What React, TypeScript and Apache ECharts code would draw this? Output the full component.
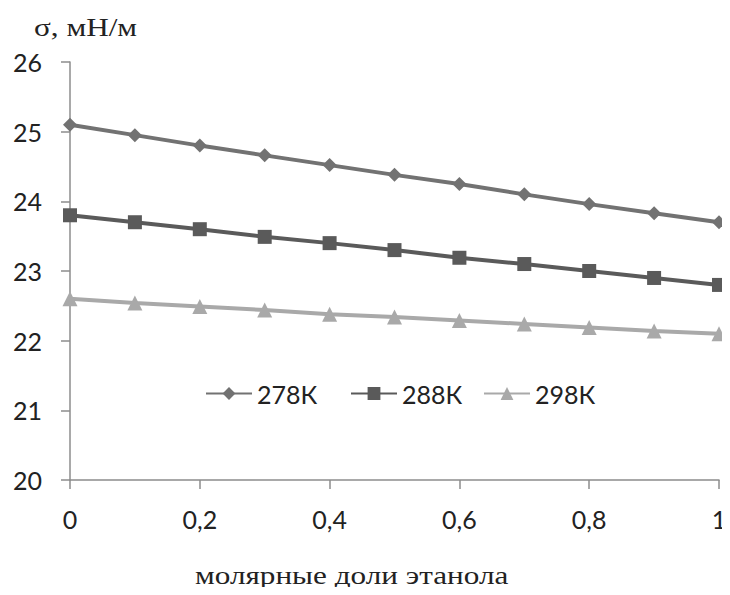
import React, { useEffect, useRef } from "react";
import * as echarts from "echarts";

const xValues = [0, 0.1, 0.2, 0.3, 0.4, 0.5, 0.6, 0.7, 0.8, 0.9, 1];
const s278 = [25.1, 24.95, 24.8, 24.66, 24.52, 24.38, 24.25, 24.1, 23.96, 23.83, 23.7];
const s288 = [23.8, 23.7, 23.6, 23.49, 23.4, 23.3, 23.19, 23.1, 23.0, 22.9, 22.8];
const s298 = [22.6, 22.54, 22.49, 22.44, 22.38, 22.34, 22.29, 22.24, 22.19, 22.14, 22.1];
const seriesNames = ["278К", "288К", "298К"];
const yTitle = "σ, мН/м";
const xTitle = "молярные доли этанола";

const sans = "Lato, 'Open Sans', sans-serif";
const serif = "'Liberation Serif', 'DejaVu Serif', serif";

export default function App() {
  const ref = useRef<HTMLDivElement>(null);
  useEffect(() => {
    if (!ref.current) return;
    const chart = echarts.init(ref.current, null, { renderer: "svg" });
    const pair = (ys: number[]) => xValues.map((x, i) => [x, ys[i]]);
    const colors = ["#727272", "#5a5a5a", "#a9a9a9"];
    const symbols = ["diamond", "rect", "triangle"];
    const sizes = [14, 14, 15];
    const data = [s278, s288, s298];
    const legendLefts = [200, 345, 478];
    chart.setOption({
      animation: false,
      graphic: [
        {
          type: "text",
          left: 34,
          top: 14,
          scaleX: 1.2,
          style: { text: yTitle, font: `26px ${serif}`, fill: "#222" },
        },
        {
          type: "text",
          x: 195,
          y: 562,
          scaleX: 1.2,
          style: { text: xTitle, font: `26px ${serif}`, fill: "#222" },
        },
      ],
      legend: seriesNames.map((n, i) => ({
        left: legendLefts[i],
        top: 376,
        itemWidth: 46,
        itemHeight: 16,
        textStyle: { fontFamily: sans, fontSize: 25, color: "#222" },
        data: [n],
      })),
      grid: { left: 70, right: 11, top: 62, bottom: 115, containLabel: false },
      xAxis: {
        type: "value",
        min: 0,
        max: 1,
        interval: 0.2,
        splitLine: { show: false },
        axisLine: { lineStyle: { color: "#8c8c8c", width: 1.5 } },
        axisTick: { show: true, length: 9, lineStyle: { color: "#8c8c8c", width: 1.5 } },
        axisLabel: {
          margin: 26,
          fontFamily: sans,
          fontSize: 25,
          color: "#222",
          formatter: (v: number) => String(Math.round(v * 10) / 10).replace(".", ","),
        },
      },
      yAxis: [
        {
          type: "value",
          min: 20,
          max: 26,
          interval: 1,
          splitLine: { show: false },
          axisLine: { show: true, lineStyle: { color: "#8c8c8c", width: 1.5 } },
          axisTick: { show: true, length: 9, lineStyle: { color: "#8c8c8c", width: 1.5 } },
          axisLabel: { margin: 28, fontFamily: sans, fontSize: 25, color: "#222" },
        },
        {
          type: "value",
          min: 20,
          max: 26,
          interval: 1,
          position: "right",
          offset: 10,
          splitLine: { show: false },
          axisLine: { show: false },
          axisTick: { show: true, inside: true, length: 6, lineStyle: { color: "#aaaaaa", width: 1.5 } },
          axisLabel: { show: false },
        },
      ],
      series: data.map((d, i) => ({
        name: seriesNames[i],
        type: "line",
        data: pair(d),
        symbol: symbols[i],
        symbolSize: sizes[i],
        lineStyle: { color: colors[i], width: 4 },
        itemStyle: { color: colors[i], borderWidth: 0 },
        z: 3 - i,
      })),
    });
    return () => chart.dispose();
  }, []);
  return <div ref={ref} style={{ width: 730, height: 595, margin: -8 }} />;
}
